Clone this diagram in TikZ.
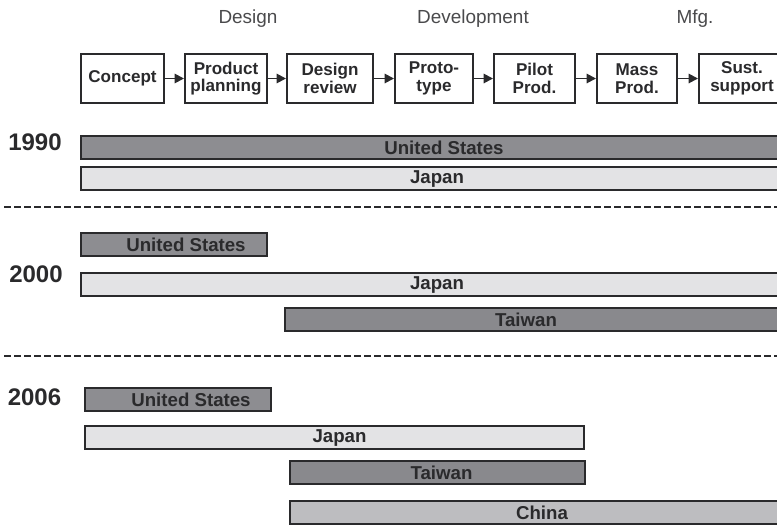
\documentclass[tikz,border=0pt]{standalone}
\usepackage{fontspec}
\setmainfont{Liberation Sans}
\usetikzlibrary{arrows.meta}
\definecolor{ink}{HTML}{2A2A2C}
\definecolor{darkbar}{HTML}{8D8D91}
\definecolor{lightbar}{HTML}{E3E3E5}
\definecolor{midbar}{HTML}{BDBDC0}
\tikzset{
  stagebox/.style={draw=ink, line width=1.5pt, fill=white, inner sep=0pt,
    minimum height=36.75pt, align=center, text=ink,
    font=\fontsize{12.8}{13.1}\selectfont\bfseries},
  bar/.style={draw=ink, line width=1.5pt, inner sep=0pt, minimum height=17.25pt},
  bartext/.style={text=ink, font=\fontsize{14}{16}\selectfont\bfseries, inner sep=0pt},
  yeartext/.style={text=ink, font=\fontsize{18}{20}\selectfont\bfseries, inner sep=0pt},
  headtext/.style={text=ink!85, font=\fontsize{14.2}{16}\selectfont, anchor=base, inner sep=0pt},
  flow/.style={draw=ink, line width=1.4pt, -{Triangle[length=7pt,width=7pt]}},
  sep/.style={draw=ink, line width=1.8pt, dash pattern=on 5.25pt off 2.25pt},
}
\begin{document}
\begin{tikzpicture}[x=0.75pt,y=-0.75pt]
\useasboundingbox (0,0) rectangle (777,525);
% headers
\node[headtext] (hdes) at (248,23) {Design};
\node[headtext] (hdev) at (473,23) {Development};
\node[headtext] (hmfg) at (695,23) {Mfg.};
% stage boxes
\node[stagebox, minimum width=62.25pt] (s1) at (122.5,78.5) {Concept};
\node[stagebox, minimum width=61.5pt]  (s2) at (226,78.5) {Product\\planning};
\node[stagebox, minimum width=64.5pt]  (s3) at (330,78.5) {Design\\review};
\node[stagebox, minimum width=58.5pt]  (s4) at (434,78.5) {Proto-\\type};
\node[stagebox, minimum width=60.75pt] (s5) at (534.5,78.5) {Pilot\\Prod.};
\node[stagebox, minimum width=60pt]    (s6) at (637,78.5) {Mass\\Prod.};
\node[stagebox, minimum width=64.5pt]  (s7) at (742,78.5) {Sust.\\support};
\draw[flow] (s1) -- (s2);
\draw[flow] (s2) -- (s3);
\draw[flow] (s3) -- (s4);
\draw[flow] (s4) -- (s5);
\draw[flow] (s5) -- (s6);
\draw[flow] (s6) -- (s7);
% years
\node[yeartext] (y1990) at (35,142) {1990};
\node[yeartext] (y2000) at (36,274.5) {2000};
\node[yeartext] (y2006) at (34.5,397) {2006};
% separators
\coordinate (d1a) at (4,207); \coordinate (d1b) at (777,207);
\coordinate (d2a) at (4,356); \coordinate (d2b) at (777,356);
\draw[sep] (d1a) -- (d1b);
\draw[sep] (d2a) -- (d2b);
% 1990
\node[bar, fill=darkbar, minimum width=528.75pt] (b1us) at (433,147) {};
\node[bartext] (t1us) at (444,147.5) {United States};
\node[bar, fill=lightbar, minimum width=528.75pt] (b1jp) at (433,178) {};
\node[bartext] (t1jp) at (437,179) {Japan};
% 2000
\node[bar, fill=darkbar, minimum width=139.5pt] (b2us) at (174,244.5) {};
\node[bartext] (t2us) at (186,245) {United States};
\node[bar, fill=lightbar, minimum width=528.75pt] (b2jp) at (433,284) {};
\node[bartext] (t2jp) at (437,285) {Japan};
\node[bar, fill=darkbar!97!black, minimum width=375pt] (b2tw) at (535,319) {};
\node[bartext] (t2tw) at (526,319.5) {Taiwan};
% 2006
\node[bar, fill=darkbar, minimum width=139.5pt] (b3us) at (178,399) {};
\node[bartext] (t3us) at (191,399.5) {United States};
\node[bar, fill=lightbar, minimum width=374.25pt] (b3jp) at (334.5,437.5) {};
\node[bartext] (t3jp) at (339.5,438.5) {Japan};
\node[bar, fill=darkbar!97!black, minimum width=221.25pt] (b3tw) at (437.5,472.5) {};
\node[bartext] (t3tw) at (441.5,473) {Taiwan};
\node[bar, fill=midbar, minimum width=371.25pt] (b3cn) at (537.5,512) {};
\node[bartext] (t3cn) at (542,513) {China};
\end{tikzpicture}
\end{document}
